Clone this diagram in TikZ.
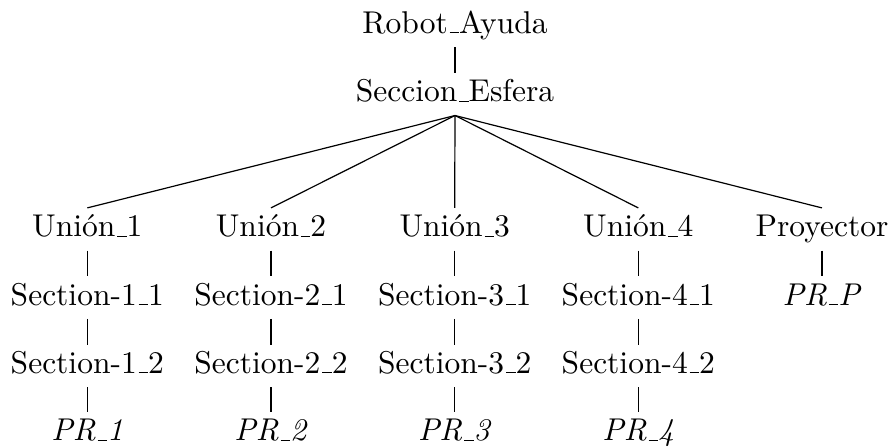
\documentclass[tikz,border=0pt]{standalone}
% short low rule in the classic Computer Modern manner
\newcommand\ulbar{\leavevmode\kern.06em\vbox{\hrule width.3em}}
\begin{document}
\begin{tikzpicture}[x=0.3333pt,y=-0.3333pt,
  lbl/.style={inner xsep=0pt, inner ysep=2.2pt, text height=7.2pt, text depth=2.2pt, anchor=base,
              font=\fontsize{10.5pt}{13pt}\selectfont},
  every path/.style={line width=0.4pt}]
\useasboundingbox (0,0) rectangle (890,447);
% top of the tree
\node[lbl] (root) at (455,33.3) {Robot\ulbar Ayuda};
\node[lbl] (sec)  at (455,101.7) {Seccion\ulbar Esfera};
% joints and projector
\node[lbl] (u1) at (87.3,236.7) {Unión\ulbar 1};
\node[lbl] (u2) at (271,236.7) {Unión\ulbar 2};
\node[lbl] (u3) at (454.7,236.7) {Unión\ulbar 3};
\node[lbl] (u4) at (638.3,236.7) {Unión\ulbar 4};
\node[lbl] (pj) at (822,236.7) {Proyector};
% first sections
\node[lbl] (s11) at (87.3,305) {Section-1\ulbar 1};
\node[lbl] (s21) at (271,305) {Section-2\ulbar 1};
\node[lbl] (s31) at (454.7,305) {Section-3\ulbar 1};
\node[lbl] (s41) at (638.3,305) {Section-4\ulbar 1};
\node[lbl] (prp) at (822,305) {\textit{PR\ulbar P}};
% second sections
\node[lbl] (s12) at (87.3,373.3) {Section-1\ulbar 2};
\node[lbl] (s22) at (271,373.3) {Section-2\ulbar 2};
\node[lbl] (s32) at (454.7,373.3) {Section-3\ulbar 2};
\node[lbl] (s42) at (638.3,373.3) {Section-4\ulbar 2};
% end points
\node[lbl] (p1) at (87.3,440.7) {\textit{PR\ulbar 1}};
\node[lbl] (p2) at (271,440.7) {\textit{PR\ulbar 2}};
\node[lbl] (p3) at (454.7,440.7) {\textit{PR\ulbar 3}};
\node[lbl] (p4) at (638.3,440.7) {\textit{PR\ulbar 4}};
% edges
\draw (root.south) -- (sec.north);
\foreach \c in {u1,u2,u3,u4,pj}
  \draw (sec.south) -- (\c.north);
\foreach \a/\b in {u1/s11,u2/s21,u3/s31,u4/s41,pj/prp,
                   s11/s12,s21/s22,s31/s32,s41/s42,
                   s12/p1,s22/p2,s32/p3,s42/p4}
  \draw (\a.south) -- (\b.north);
\end{tikzpicture}
\end{document}
